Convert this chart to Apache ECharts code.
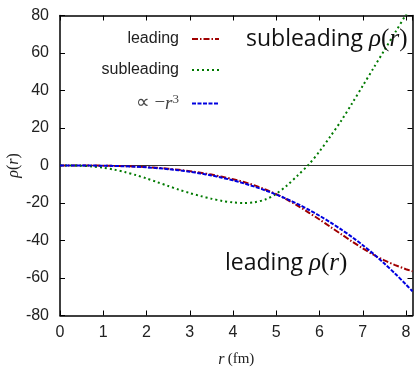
<!DOCTYPE html>
<html>
<head>
<meta charset="utf-8">
<script src="https://cdn.jsdelivr.net/npm/echarts@6/dist/echarts.min.js"></script>
<style>
html,body{margin:0;padding:0;background:#fff;}
#c{width:417px;height:368px;}
</style>
</head>
<body>
<div id="c"></div>
<script>
var rValues = [0,0.25,0.5,0.75,1,1.25,1.5,1.75,2,2.25,2.5,2.75,3,3.25,3.5,3.75,4,4.25,4.5,4.75,5,5.25,5.5,5.75,6,6.25,6.5,6.75,7,7.25,7.5,7.75,8,8.15];
var leading = [0,0,-0.01,-0.04,-0.1,-0.2,-0.35,-0.56,-0.85,-1.22,-1.7,-2.3,-3.0,-3.85,-4.85,-6.0,-7.3,-8.8,-10.6,-12.8,-15.3,-18.2,-21.5,-25.1,-28.8,-32.7,-36.6,-40.5,-44.2,-47.6,-50.6,-53.1,-55.3,-56.4];
var subleading = [0,-0.02,-0.12,-0.5,-1.2,-2.2,-3.5,-5.1,-6.9,-8.9,-10.9,-12.9,-14.7,-16.3,-17.7,-18.9,-19.7,-20.0,-19.6,-18.1,-15.1,-10.6,-5.2,0.5,7.5,15.5,23.8,33.0,42.5,52.0,61.5,71.0,80.5,86.0];
var cubic = [0,0,-0.02,-0.05,-0.12,-0.24,-0.42,-0.66,-0.99,-1.41,-1.94,-2.58,-3.35,-4.26,-5.32,-6.54,-7.94,-9.52,-11.3,-13.3,-15.5,-17.9,-20.6,-23.6,-26.8,-30.3,-34.1,-38.1,-42.5,-47.2,-52.3,-57.7,-63.5,-67.1];
var xTicks = [0,1,2,3,4,5,6,7,8];
var yTicks = [-80,-60,-40,-20,0,20,40,60,80];
var seriesNames = ['leading','subleading','\u221D \u2212r3'];

function pairs(ys){ return rValues.map(function(r,i){ return [r, ys[i]]; }); }

var chart = echarts.init(document.getElementById('c'), null, {renderer:'canvas'});
var axisFont = {fontFamily:'Liberation Sans, Arial, sans-serif', fontSize:16, color:'#222'};
function intFmt(v){ return xTicks.indexOf(v) >= 0 ? String(v) : ''; }
function yFmt(v){ return yTicks.indexOf(v) >= 0 ? String(v) : ''; }

var option = {
  animation:false,
  backgroundColor:'#fff',
  grid:{left:60, top:15.5, right:4.5, bottom:52.5, containLabel:false, outerBoundsMode:'none'},
  legend:{
    orient:'vertical', align:'right', right:197, top:31, padding:0,
    itemWidth:27, itemHeight:10, itemGap:15,
    data:seriesNames,
    itemStyle:{opacity:0},
    textStyle:{fontFamily:'Liberation Sans, Arial, sans-serif', fontSize:16, color:'#222', padding:[0,8,0,0],
      rich:{
        n:{fontFamily:'Liberation Serif, serif', fontSize:19, color:'#444'},
        i:{fontFamily:'Liberation Serif, serif', fontStyle:'italic', fontSize:19, color:'#444'},
        s:{fontFamily:'Liberation Serif, serif', fontSize:13, color:'#444', verticalAlign:'top', padding:[0,0,8,0]}
      }},
    formatter:function(n){
      if(n === seriesNames[2]) return '{n|\u221D \u2212}{i|r}{s|3}';
      return n;
    }
  },
  xAxis:[{
    type:'value', min:0, max:8.15, interval:1, position:'bottom',
    axisLine:{show:true, onZero:false, lineStyle:{color:'#000', width:1.5}},
    axisTick:{show:true, inside:true, length:5, lineStyle:{color:'#000', width:1}},
    axisLabel:Object.assign({margin:9, formatter:intFmt, showMaxLabel:false}, axisFont),
    splitLine:{show:false},
    name:'{i|r} {n|(fm)}', nameLocation:'middle', nameGap:36, nameMoveOverlap:false,
    nameTextStyle:{rich:{i:{fontFamily:'Liberation Serif, serif', fontStyle:'italic', fontSize:16, color:'#222'}, n:{fontFamily:'Liberation Serif, serif', fontSize:15, color:'#222'}}}
  },{
    type:'value', min:0, max:8.15, interval:1, position:'top',
    axisLine:{show:true, onZero:false, lineStyle:{color:'#000', width:1.5}},
    axisTick:{show:true, inside:true, length:5, lineStyle:{color:'#000', width:1}},
    axisLabel:{show:false}, splitLine:{show:false}
  }],
  yAxis:[{
    type:'value', min:-80, max:80, interval:20, position:'left',
    axisLine:{show:true, onZero:false, lineStyle:{color:'#000', width:1.5}},
    axisTick:{show:true, inside:true, length:5, lineStyle:{color:'#000', width:1}},
    axisLabel:Object.assign({margin:11, formatter:yFmt}, axisFont),
    splitLine:{show:false},
    name:'{i|\u03C1}{n|(}{i|r}{n|)}', nameLocation:'middle', nameGap:38, nameRotate:90, nameMoveOverlap:false,
    nameTextStyle:{rich:{i:{fontFamily:'Liberation Serif, serif', fontStyle:'italic', fontSize:16, color:'#222'}, n:{fontFamily:'Liberation Serif, serif', fontSize:16, color:'#222'}}}
  },{
    type:'value', min:-80, max:80, interval:20, position:'right',
    axisLine:{show:true, onZero:false, lineStyle:{color:'#000', width:1.5}},
    axisTick:{show:true, inside:true, length:5, lineStyle:{color:'#000', width:1}},
    axisLabel:{show:false}, splitLine:{show:false}
  }],
  graphic:[
    {type:'text', left:246, top:27, z:100, style:{
      text:'{s|subleading }{i|\u03C1}{n|(}{i|r}{n|)}',
      rich:{
        s:{fontFamily:'Open Sans, Lato, sans-serif', fontSize:23, fill:'#111'},
        i:{fontFamily:'Liberation Serif, serif', fontStyle:'italic', fontSize:25, fill:'#111'},
        n:{fontFamily:'Liberation Serif, serif', fontSize:25, fill:'#111'}
      }}},
    {type:'text', left:225, top:251, z:100, style:{
      text:'{s|leading }{i|\u03C1}{n|(}{i|r}{n|)}',
      rich:{
        s:{fontFamily:'Open Sans, Lato, sans-serif', fontSize:23, fill:'#111'},
        i:{fontFamily:'Liberation Serif, serif', fontStyle:'italic', fontSize:25, fill:'#111'},
        n:{fontFamily:'Liberation Serif, serif', fontSize:25, fill:'#111'}
      }}}
  ],
  series:[
    {name:seriesNames[0], type:'line', data:pairs(leading), smooth:0.3, showSymbol:false, symbol:'none', clip:true, z:3,
     lineStyle:{color:'#a00000', width:2, type:[6,2,1.5,2]}, itemStyle:{color:'#a00000'},
     markLine:{silent:true, symbol:'none', label:{show:false}, z:1,
       lineStyle:{color:'#333', width:1, type:'solid'}, data:[{yAxis:0}]}},
    {name:seriesNames[1], type:'line', data:pairs(subleading), smooth:0.3, showSymbol:false, symbol:'none', clip:true, z:4,
     lineStyle:{color:'#007a00', width:2, type:[2,3]}, itemStyle:{color:'#007a00'}},
    {name:seriesNames[2], type:'line', data:pairs(cubic), smooth:0.3, showSymbol:false, symbol:'none', clip:true, z:5,
     lineStyle:{color:'#0000e0', width:2, type:[4,1.5]}, itemStyle:{color:'#0000e0'}}
  ]
};
chart.setOption(option);
</script>
</body>
</html>
